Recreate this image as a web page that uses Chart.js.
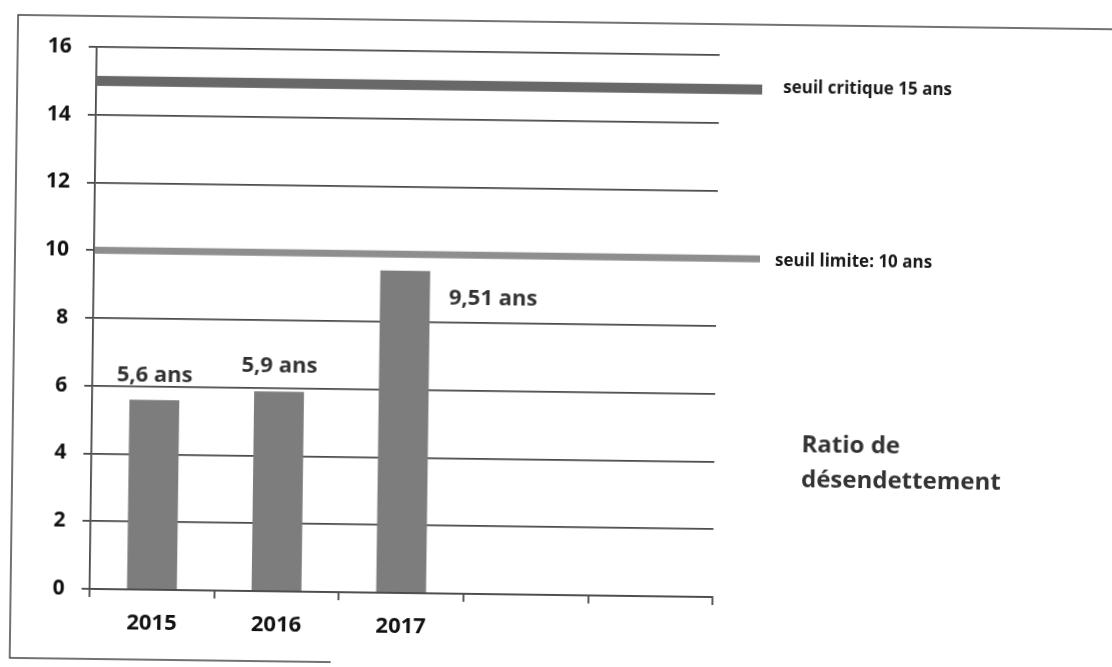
<!DOCTYPE html>
<html>
<head>
<meta charset="utf-8">
<script src="https://cdn.jsdelivr.net/npm/chart.js@4/dist/chart.umd.min.js"></script>
<style>
  html, body { margin: 0; padding: 0; background: #fff; overflow: hidden; }
  #wrap { width: 1112px; height: 667px; overflow: hidden; position: relative; background: #fff; }
  #c { display: block; transform: rotate(0.75deg); transform-origin: 556px 333px; }
</style>
</head>
<body>
<div id="wrap"><canvas id="c" width="1112" height="667"></canvas></div>
<script>
// ---- data ----
const categories = ['2015', '2016', '2017', '', ''];
const ratioValues = [5.6, 5.9, 9.51];
const yTicks = [0, 2, 4, 6, 8, 10, 12, 14, 16];
const thresholdValues = [15, 10];
const thresholdLabels = ['seuil critique 15 ans', 'seuil limite: 10 ans'];
const seriesName = ['Ratio de', 'désendettement'];
const unit = 'ans';

const FONT = "'Open Sans', 'DejaVu Sans', sans-serif";

const extras = {
  id: 'extras',
  beforeDatasetsDraw(chart) {
    const ctx = chart.ctx;
    const y = chart.scales.y;
    const area = chart.chartArea;
    const styles = [
      { color: '#686868', width: 10 },
      { color: '#8e8e8e', width: 7 }
    ];
    ctx.save();
    thresholdValues.forEach((v, i) => {
      const py = y.getPixelForValue(v);
      ctx.fillStyle = styles[i].color;
      ctx.fillRect(area.left + 1, py - styles[i].width / 2, area.right - area.left + 42, styles[i].width);
    });
    ctx.restore();
  },
  afterDatasetsDraw(chart) {
    const ctx = chart.ctx;
    const y = chart.scales.y;
    const area = chart.chartArea;
    ctx.save();
    // threshold labels
    ctx.fillStyle = '#1a1a1a';
    ctx.font = 'bold 17px ' + FONT;
    ctx.textBaseline = 'middle';
    ctx.textAlign = 'left';
    thresholdValues.forEach((v, i) => {
      const py = y.getPixelForValue(v);
      ctx.fillText(thresholdLabels[i], area.right + 64 - i * 6, py - (i === 0 ? 2 : -2));
    });
    // bar value labels
    const meta = chart.getDatasetMeta(0);
    ctx.fillStyle = '#333333';
    ctx.font = 'bold 22px ' + FONT;
    meta.data.forEach((bar, i) => {
      const txt = String(ratioValues[i]).replace('.', ',') + ' ' + unit;
      if (i < 2) {
        ctx.textAlign = 'center';
        ctx.fillText(txt, bar.x, bar.y - 25);
      } else {
        ctx.textAlign = 'left';
        ctx.fillText(txt, bar.x + 44, bar.y + 27);
      }
    });
    // series name
    ctx.textAlign = 'left';
    ctx.fillStyle = '#333333';
    ctx.font = 'bold 24px ' + FONT;
    ctx.fillText(seriesName[0], area.right + 87, 442);
    ctx.fillText(seriesName[1], area.right + 87, 477);
    // outer frame
    ctx.strokeStyle = '#444';
    ctx.lineWidth = 1.5;
    ctx.beginPath();
    ctx.moveTo(1112, 22);
    ctx.lineTo(14, 22);
    ctx.lineTo(14, 665);
    ctx.lineTo(335, 665);
    ctx.stroke();
    ctx.restore();
  }
};

new Chart(document.getElementById('c'), {
  type: 'bar',
  data: {
    labels: categories,
    datasets: [{
      label: seriesName.join(' '),
      data: ratioValues,
      backgroundColor: '#7d7d7d',
      borderWidth: 0,
      categoryPercentage: 0.8,
      barPercentage: 0.5
    }]
  },
  options: {
    responsive: false,
    animation: false,
    devicePixelRatio: 1,
    layout: { padding: { left: 0, top: 53, right: 396, bottom: 0 } },
    plugins: { legend: { display: false }, tooltip: { enabled: false }, title: { display: false } },
    scales: {
      x: {
        afterFit(s) { s.height = 72; },
        grid: { display: true, drawOnChartArea: false, drawTicks: true, tickLength: 8, color: '#4a4a4a', lineWidth: 1.8, offset: true },
        border: { display: true, color: '#4a4a4a', width: 1.8 },
        ticks: { color: '#111', padding: 13, font: { family: FONT, size: 22, weight: 'bold' } }
      },
      y: {
        min: 0, max: 16,
        afterFit(s) { s.width = 93; },
        afterBuildTicks(s) { s.ticks = yTicks.map(v => ({ value: v })); },
        grid: { color: '#4a4a4a', lineWidth: 1.8, tickLength: 8 },
        border: { display: true, color: '#4a4a4a', width: 1.8 },
        ticks: { color: '#111', padding: 17, font: { family: FONT, size: 21, weight: 'bold' } }
      }
    }
  },
  plugins: [extras]
});
</script>
</body>
</html>
